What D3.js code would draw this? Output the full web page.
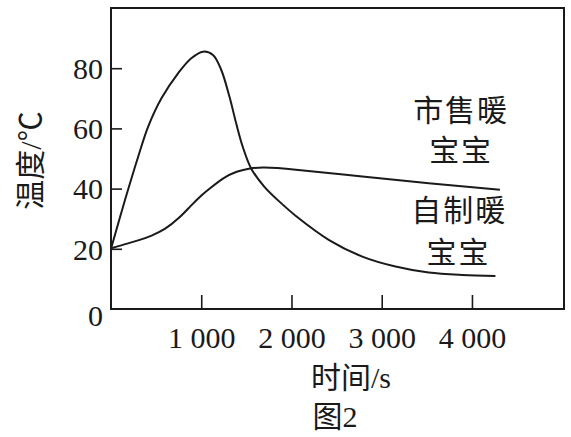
<!DOCTYPE html>
<html>
<head>
  <meta charset="utf-8">
  <title>图2</title>
  <script src="https://d3js.org/d3.v7.min.js"></script>
  <style>
    body { margin: 0; background: #fff; }
    svg text { fill: #1a1a1a; }
    svg text.num { font-family: "Liberation Serif", "DejaVu Serif", serif; font-size: 30px; }
    svg text.cn { font-family: "Liberation Serif", "Noto Sans CJK SC", serif; font-size: 30px; }
  </style>
</head>
<body>
  <svg width="571" height="437" id="mainsvg"></svg>
  <script>
    // 时间 (s) 和温度 (℃)
    const shiShouT = [0, 155, 301, 412, 559, 743, 890, 1019, 1130, 1222, 1313, 1387, 1460, 1553, 1700, 1921, 2049, 2417, 2785, 3153, 3521, 3889, 4260];
    const shiShouV = [20, 36.2, 50.6, 60.6, 70, 78.3, 83.3, 85.5, 84.4, 79.4, 70.5, 61.7, 53.9, 46.7, 40.6, 34.2, 30.9, 22.9, 17.4, 14.1, 12.1, 11.3, 11.0];
    const ziZhiT = [0, 301, 450, 596, 750, 876, 987, 1098, 1245, 1393, 1541, 1700, 2049, 2785, 3521, 4310];
    const ziZhiV = [20.2, 22.8, 24.4, 26.6, 30.2, 34.0, 37.3, 40.1, 43.4, 45.6, 46.7, 47.0, 46.3, 44.0, 41.8, 39.6];
    const xTicks = [1000, 2000, 3000, 4000];
    const yTicks = [0, 20, 40, 60, 80];

    const svg = d3.select('#mainsvg');
    const mLeft = 111, mRight = 564, mTop = 8, mBottom = 309;

    const x = d3.scaleLinear().domain([0, 5020]).range([mLeft, mRight]);
    const y = d3.scaleLinear().domain([0, 100]).range([mBottom, mTop]);

    // 边框
    svg.append('rect')
      .attr('x', mLeft).attr('y', mTop)
      .attr('width', mRight - mLeft).attr('height', mBottom - mTop)
      .attr('fill', 'none').attr('stroke', '#1a1a1a').attr('stroke-width', 2);

    // 刻度 (朝内)
    const fmt = d => d3.format(',')(d).replace(',', ' ');
    const xAxis = svg.append('g')
      .attr('transform', `translate(0,${mBottom})`)
      .call(d3.axisBottom(x).tickValues(xTicks).tickSize(-14).tickPadding(24).tickFormat(fmt));
    const yAxis = svg.append('g')
      .attr('transform', `translate(${mLeft},0)`)
      .call(d3.axisLeft(y).tickValues(yTicks).tickSize(-11).tickPadding(8));

    [xAxis, yAxis].forEach(g => {
      g.attr('font-family', null).attr('font-size', null);
      g.select('.domain').remove();
      g.selectAll('line').attr('stroke', '#1a1a1a').attr('stroke-width', 1.6);
      g.selectAll('text').attr('class', 'num').attr('fill', '#1a1a1a');
    });
    const g0 = yAxis.selectAll('.tick').filter(d => d === 0);
    g0.select('line').remove();
    yAxis.selectAll('text').attr('dy', '0.34em');
    g0.select('text').attr('dy', '0.55em');
    xAxis.selectAll('text').attr('dy', '0.5em');

    // 曲线
    const line = d3.line()
      .x(d => x(d[0])).y(d => y(d[1]))
      .curve(d3.curveCatmullRom.alpha(0.5));
    const smooth = d3.line()
      .x(d => x(d[0])).y(d => y(d[1]))
      .curve(d3.curveNatural);

    svg.append('path')
      .datum(d3.zip(shiShouT, shiShouV))
      .attr('d', line)
      .attr('fill', 'none').attr('stroke', '#1a1a1a').attr('stroke-width', 2);

    svg.append('path')
      .datum(d3.zip(ziZhiT, ziZhiV))
      .attr('d', smooth)
      .attr('fill', 'none').attr('stroke', '#1a1a1a').attr('stroke-width', 2);

    // 标注
    const notes = [
      { t: 3880, v: 66, s: '市售暖' },
      { t: 3880, v: 52.5, s: '宝宝' },
      { t: 3860, v: 32.6, s: '自制暖' },
      { t: 3850, v: 18.9, s: '宝宝' }
    ];
    svg.selectAll('.note').data(notes).enter().append('text')
      .attr('class', 'cn note')
      .attr('x', d => x(d.t)).attr('y', d => y(d.v))
      .attr('text-anchor', 'middle')
      .attr('dominant-baseline', 'central')
      .attr('letter-spacing', 2)
      .text(d => d.s);

    // 坐标轴名称
    svg.append('text')
      .attr('class', 'cn')
      .attr('transform', `translate(30,${(mTop + mBottom) / 2 + 2}) rotate(-90)`)
      .attr('text-anchor', 'middle')
      .attr('dominant-baseline', 'central')
      .text('温度/℃');

    svg.append('text')
      .attr('class', 'cn')
      .attr('x', 351).attr('y', 377)
      .attr('text-anchor', 'middle')
      .attr('dominant-baseline', 'central')
      .text('时间/s');

    svg.append('text')
      .attr('class', 'cn')
      .attr('x', 335).attr('y', 416)
      .attr('text-anchor', 'middle')
      .attr('dominant-baseline', 'central')
      .text('图2');
  </script>
</body>
</html>
